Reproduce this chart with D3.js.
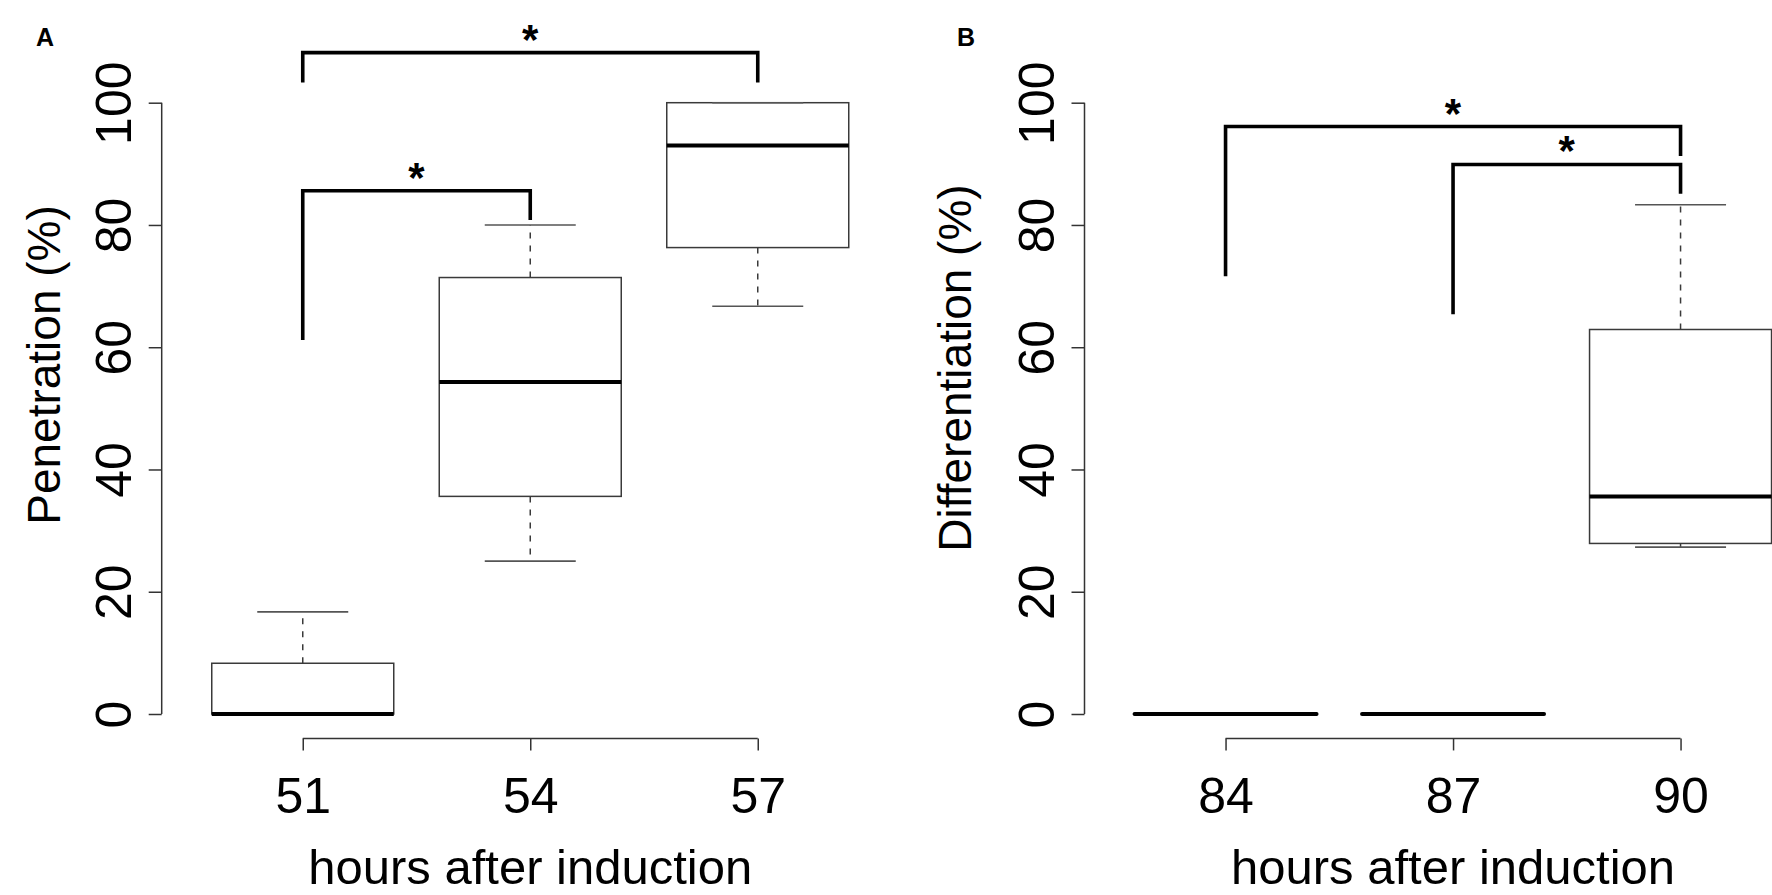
<!DOCTYPE html>
<html>
<head>
<meta charset="utf-8">
<script src="https://cdn.jsdelivr.net/npm/d3@7"></script>
<style>
  html, body { margin: 0; padding: 0; background: #fff; }
  svg { display: block; font-family: "Liberation Sans", Arial, Helvetica, sans-serif; }
</style>
</head>
<body>
<div id="chart"></div>
<script>
// box plot stats (percent)
const hoursA = ['51', '54', '57'];
const lowA = [0, 25, 66.7];
const q1A = [0, 35.6, 76.3];
const medA = [0, 54.3, 93.0];
const q3A = [8.3, 71.4, 100];
const highA = [16.7, 80, 100];

const hoursB = ['84', '87', '90'];
const lowB = [0, 0, 27.3];
const q1B = [0, 0, 27.9];
const medB = [0, 0, 35.6];
const q3B = [0, 0, 62.9];
const highB = [0, 0, 83.3];

const yTicks = [0, 20, 40, 60, 80, 100];

// significance brackets: group indices, bar level, leg ends (in %)
const bracketsA = [
  {from: 0, to: 2, top: 108.2, leftEnd: 103.3, rightEnd: 103.3, label: '*'},
  {from: 0, to: 1, top: 85.6, leftEnd: 61.2, rightEnd: 80.8, label: '*'}
];
const bracketsB = [
  {from: 0, to: 2, top: 96.1, leftEnd: 71.6, rightEnd: 91.3, label: '*'},
  {from: 1, to: 2, top: 89.9, leftEnd: 65.4, rightEnd: 85.1, label: '*'}
];

(function(){
  const width = 1772, height = 895;
  const svg = d3.select('#chart').append('svg')
    .attr('width', width)
    .attr('height', height);

  const y = d3.scaleLinear().domain([-4, 104]).range([738.45, 78.25]);

  function drawPanel(opt){
    const x = d3.scaleLinear().domain([0.38, 3.62]).range(opt.xRange);
    const g = svg.append('g');
    const boxHalf = 0.4, capHalf = 0.2;
    const stats = opt.hours.map((h, i) => ({
      h, i, lo: opt.low[i], q1: opt.q1[i], med: opt.med[i], q3: opt.q3[i], hi: opt.high[i]
    }));

    // y axis
    const yAxis = g.append('g')
      .attr('transform', `translate(${opt.xRange[0]},0)`)
      .call(d3.axisLeft(y).tickValues(yTicks).tickSize(13).tickSizeOuter(0));
    yAxis.select('.domain').remove();
    yAxis.append('line')
      .attr('x1', 0).attr('x2', 0)
      .attr('y1', y(0)).attr('y2', y(100))
      .attr('stroke', '#333').attr('stroke-width', 1.5);
    yAxis.selectAll('.tick line').attr('stroke', '#333').attr('stroke-width', 1.5);
    yAxis.selectAll('.tick text')
      .attr('transform', 'rotate(-90)')
      .attr('x', 0).attr('y', -31).attr('dy', 0)
      .attr('text-anchor', 'middle')
      .attr('fill', '#000')
      .style('font-size', '50px')
      .style('font-family', '"Liberation Sans", Arial, sans-serif');

    // x axis
    const xAxis = g.append('g')
      .attr('transform', `translate(0,${y(-4)})`)
      .call(d3.axisBottom(x).tickValues([1, 2, 3]).tickSize(12).tickSizeOuter(0)
        .tickFormat((d, i) => opt.hours[i]));
    xAxis.select('.domain').remove();
    xAxis.append('line')
      .attr('x1', x(1)).attr('x2', x(3))
      .attr('y1', 0).attr('y2', 0)
      .attr('stroke', '#333').attr('stroke-width', 1.5);
    xAxis.selectAll('.tick line').attr('stroke', '#333').attr('stroke-width', 1.5);
    xAxis.selectAll('.tick text')
      .attr('y', 74.5).attr('dy', 0)
      .attr('fill', '#000')
      .style('font-size', '50px')
      .style('font-family', '"Liberation Sans", Arial, sans-serif');

    // boxes
    const box = g.selectAll('g.box').data(stats).enter().append('g').attr('class', 'box');
    const lineCol = '#3a3a3a';
    box.filter(d => d.hi > d.q3).append('line')
      .attr('x1', d => x(d.i + 1)).attr('x2', d => x(d.i + 1))
      .attr('y1', d => y(d.q3)).attr('y2', d => y(d.hi))
      .attr('stroke', lineCol).attr('stroke-width', 1.5)
      .attr('stroke-dasharray', '6,7');
    box.filter(d => d.lo < d.q1).append('line')
      .attr('x1', d => x(d.i + 1)).attr('x2', d => x(d.i + 1))
      .attr('y1', d => y(d.q1)).attr('y2', d => y(d.lo))
      .attr('stroke', lineCol).attr('stroke-width', 1.5)
      .attr('stroke-dasharray', '6,7');
    box.filter(d => d.q3 > d.q1).append('rect')
      .attr('x', d => x(d.i + 1 - boxHalf))
      .attr('width', d => x(d.i + 1 + boxHalf) - x(d.i + 1 - boxHalf))
      .attr('y', d => y(d.q3))
      .attr('height', d => y(d.q1) - y(d.q3))
      .attr('fill', '#fff')
      .attr('stroke', lineCol).attr('stroke-width', 1.5);
    // whisker caps
    box.filter(d => d.hi > d.lo).each(function(d){
      [d.lo, d.hi].forEach(v => {
        d3.select(this).append('line')
          .attr('x1', x(d.i + 1 - capHalf)).attr('x2', x(d.i + 1 + capHalf))
          .attr('y1', y(v)).attr('y2', y(v))
          .attr('stroke', '#555').attr('stroke-width', 1.6);
      });
    });
    // medians
    box.append('line')
      .attr('x1', d => x(d.i + 1 - boxHalf)).attr('x2', d => x(d.i + 1 + boxHalf))
      .attr('y1', d => y(d.med)).attr('y2', d => y(d.med))
      .attr('stroke', '#000').attr('stroke-width', 4)
      .attr('stroke-linecap', d => d.q3 > d.q1 ? 'butt' : 'round');

    // significance brackets
    opt.brackets.forEach(b => {
      const x0 = x(b.from + 1), x1 = x(b.to + 1);
      g.append('path')
        .attr('d', `M${x0},${y(b.leftEnd)}V${y(b.top)}H${x1}V${y(b.rightEnd)}`)
        .attr('fill', 'none')
        .attr('stroke', '#000').attr('stroke-width', 3.6)
        .attr('stroke-linejoin', 'miter');
      g.append('text')
        .attr('x', (x0 + x1) / 2)
        .attr('y', y(b.top) - 22 + 23)
        .attr('text-anchor', 'middle')
        .style('font-size', '42px')
        .style('font-weight', 'bold')
        .text(b.label);
    });

    // axis titles
    g.append('text')
      .attr('transform', `translate(${opt.yLabelX},${opt.yLabelY}) rotate(-90)`)
      .attr('text-anchor', 'middle')
      .style('font-size', '46px')
      .text(opt.yLabel);
    g.append('text')
      .attr('x', x(2)).attr('y', 884)
      .attr('text-anchor', 'middle')
      .style('font-size', '49px')
      .text('hours after induction');

    // panel letter
    svg.append('text')
      .attr('x', opt.letterX).attr('y', 46)
      .attr('text-anchor', 'middle')
      .style('font-size', '25px')
      .style('font-weight', 'bold')
      .text(opt.letter);
  }

  drawPanel({
    hours: hoursA, low: lowA, q1: q1A, med: medA, q3: q3A, high: highA,
    brackets: bracketsA, xRange: [161.7, 898.8],
    yLabel: 'Penetration (%)', yLabelX: 60, yLabelY: 365,
    letter: 'A', letterX: 45
  });
  drawPanel({
    hours: hoursB, low: lowB, q1: q1B, med: medB, q3: q3B, high: highB,
    brackets: bracketsB, xRange: [1084.5, 1821.6],
    yLabel: 'Differentiation (%)', yLabelX: 971, yLabelY: 368,
    letter: 'B', letterX: 966
  });
})();
</script>
</body>
</html>
